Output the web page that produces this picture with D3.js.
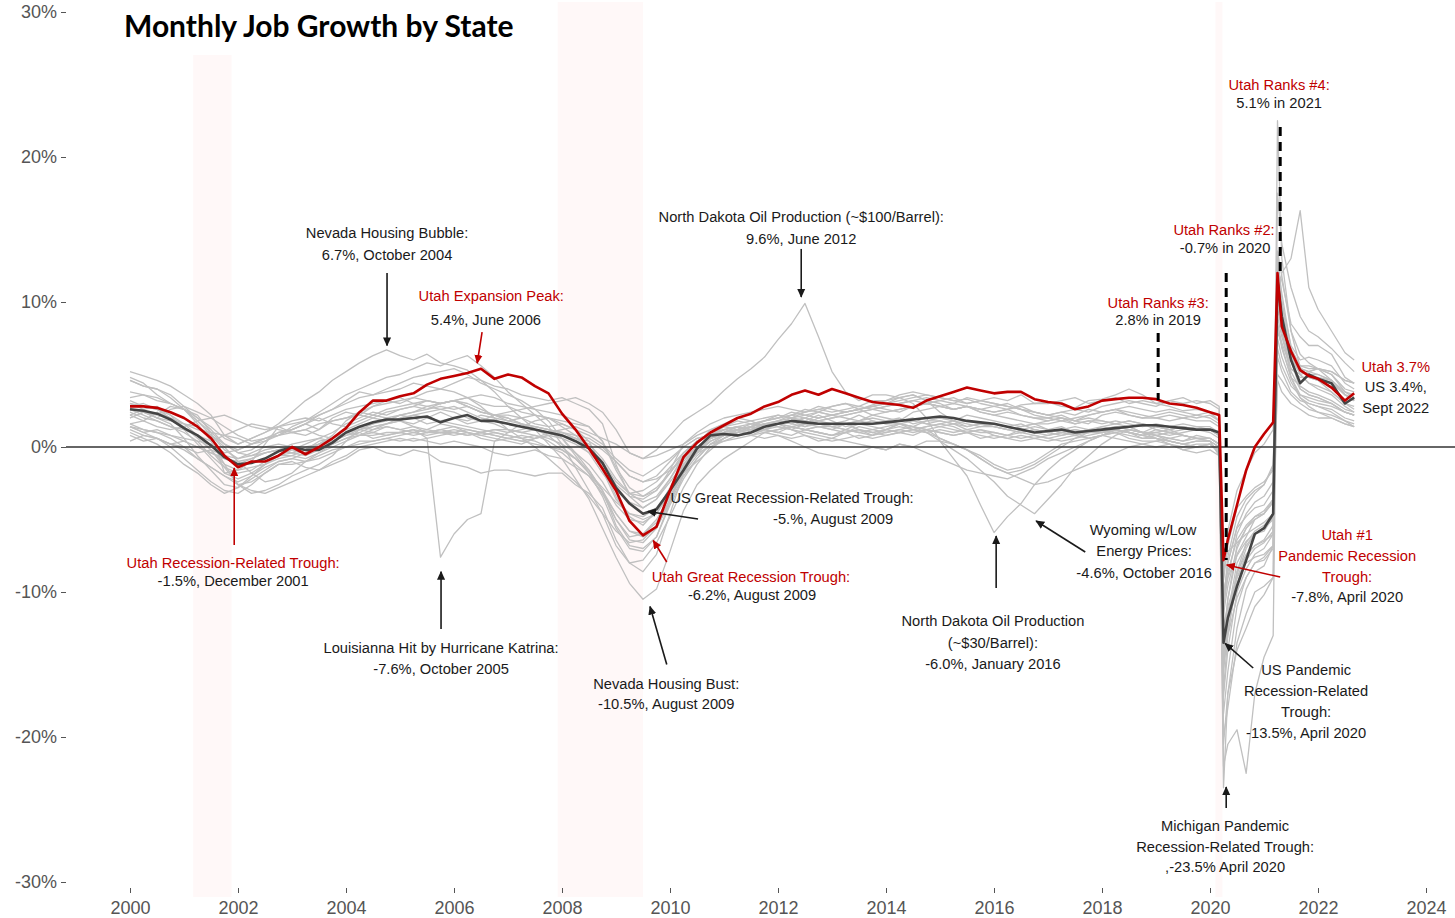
<!DOCTYPE html>
<html>
<head>
<meta charset="utf-8">
<script src="https://cdn.jsdelivr.net/npm/d3@7"></script>
<style>
  body { margin: 0; background: #fff; }
  svg { display: block; font-family: "Liberation Sans", Arial, sans-serif; }
</style>
</head>
<body>
<script>
var width  = 1455,
    height = 918;

// quarterly through 2019, then roughly every other month through Sept 2022
var dates = [
  2000, 2000.25, 2000.5, 2000.75, 2001, 2001.25, 2001.5, 2001.75,
  2002, 2002.25, 2002.5, 2002.75, 2003, 2003.25, 2003.5, 2003.75,
  2004, 2004.25, 2004.5, 2004.75, 2005, 2005.25, 2005.5, 2005.75,
  2006, 2006.25, 2006.5, 2006.75, 2007, 2007.25, 2007.5, 2007.75,
  2008, 2008.25, 2008.5, 2008.75, 2009, 2009.25, 2009.5, 2009.75,
  2010, 2010.25, 2010.5, 2010.75, 2011, 2011.25, 2011.5, 2011.75,
  2012, 2012.25, 2012.5, 2012.75, 2013, 2013.25, 2013.5, 2013.75,
  2014, 2014.25, 2014.5, 2014.75, 2015, 2015.25, 2015.5, 2015.75,
  2016, 2016.25, 2016.5, 2016.75, 2017, 2017.25, 2017.5, 2017.75,
  2018, 2018.25, 2018.5, 2018.75, 2019, 2019.25, 2019.5, 2019.75,
  2020, 2020.17, 2020.25, 2020.33, 2020.5, 2020.67, 2020.83,
  2021, 2021.17, 2021.25, 2021.33, 2021.5, 2021.67, 2021.83,
  2022, 2022.25, 2022.5, 2022.67
];

var us = [
  2.6, 2.5, 2.3, 1.9, 1.3, 0.8, 0.1, -0.7, -1.2, -1.1, -0.8, -0.3, 0.0, -0.2, -0.2, 0.3,
  1.0, 1.4, 1.7, 1.9, 1.9, 2.0, 2.1, 1.7, 2.0, 2.2, 1.8, 1.8, 1.6, 1.4, 1.2, 1.0,
  0.8, 0.4, -0.1, -1.1, -2.8, -3.9, -4.6, -4.3, -3.0, -1.6, -0.1, 0.8, 0.9, 0.8, 1.0, 1.4,
  1.6, 1.8, 1.7, 1.6, 1.6, 1.6, 1.6, 1.6, 1.7, 1.8, 1.9, 2.0, 2.1, 2.0, 1.8, 1.7,
  1.6, 1.4, 1.2, 1.0, 1.1, 1.2, 1.0, 1.1, 1.2, 1.3, 1.4, 1.5, 1.5, 1.4, 1.3, 1.2,
  1.2, 1.0, -13.5, -11.8, -9.6, -7.8, -6.0, -5.6, -4.6, 11.5, 9.0, 6.0, 4.4, 5.0, 4.7, 4.4, 3.0, 3.4
];

var utah = [
  2.8, 2.8, 2.7, 2.4, 2.0, 1.4, 0.6, -0.6, -1.4, -1.0, -1.0, -0.6, 0.0, -0.5, 0.0, 0.6,
  1.3, 2.4, 3.2, 3.2, 3.5, 3.7, 4.3, 4.7, 4.9, 5.1, 5.4, 4.7, 5.0, 4.8, 4.2, 3.7,
  2.3, 1.2, -0.1, -1.5, -3.0, -5.1, -6.1, -5.5, -3.0, -0.7, 0.3, 1.0, 1.5, 2.0, 2.3, 2.8,
  3.1, 3.6, 3.9, 3.6, 4.0, 3.7, 3.4, 3.1, 3.0, 2.9, 2.7, 3.2, 3.5, 3.8, 4.1, 3.9,
  3.7, 3.8, 3.8, 3.3, 3.1, 3.0, 2.6, 2.8, 3.2, 3.3, 3.4, 3.4, 3.3, 3.0, 2.9, 2.7,
  2.4, 2.2, -7.8, -6.4, -4.0, -1.6, 0.0, 0.9, 1.7, 12.0, 8.3, 6.6, 5.3, 4.9, 4.7, 4.1, 3.2, 3.7
];

var nevada = [
  5.2, 4.9, 4.6, 4.2, 3.6, 3.0, 2.2, 0.8, 0.2, 0.6, 1.0, 1.6, 2.4, 3.2, 3.8, 4.6,
  5.2, 5.8, 6.3, 6.7, 6.3, 6.0, 6.4, 5.8, 5.6, 5.3, 4.6, 3.8, 2.8, 2.0, 1.2, 0.2,
  -0.8, -2.2, -3.6, -5.6, -7.6, -9.4, -10.5, -9.8, -7.2, -4.4, -2.6, -1.6, -0.8, -0.2, 0.4, 1.0,
  1.2, 1.4, 1.6, 2.0, 2.2, 2.4, 2.6, 2.9, 3.2, 3.6, 3.8, 3.6, 3.4, 3.2, 3.3, 3.0,
  2.8, 2.6, 2.9, 3.0, 3.1, 2.8, 2.7, 3.2, 3.3, 3.6, 4.0, 3.6, 3.0, 2.8, 2.5, 2.6,
  2.4, 1.8, -20.5, -17.0, -14.0, -12.5, -11.0, -10.2, -9.0, 17.5, 14.0, 11.0, 9.0, 8.0, 7.6, 6.8, 5.8, 5.2
];

var northDakota = [
  1.4, 1.0, 1.2, 0.8, 0.6, 0.4, 0.2, -0.4, -0.2, 0.2, 0.6, 0.8, 1.0, 1.2, 1.6, 1.8,
  2.0, 2.2, 2.0, 1.8, 2.2, 2.0, 1.6, 1.8, 2.0, 1.6, 1.8, 2.2, 2.4, 2.6, 2.8, 3.0,
  3.2, 3.4, 3.0, 2.4, 1.2, -0.4, -0.8, -0.2, 0.8, 1.8, 2.4, 3.0, 3.9, 4.7, 5.4, 6.2,
  7.4, 8.5, 9.9, 7.6, 5.2, 3.8, 3.2, 3.6, 3.6, 3.4, 3.0, 2.0, 0.4, -0.8, -2.0, -4.0,
  -5.9, -4.8, -3.9, -2.6, -1.6, -0.8, -0.2, 0.4, 0.8, 1.2, 1.0, 0.6, 0.8, 0.4, 0.2, 0.0,
  0.2, -0.4, -10.5, -9.0, -7.5, -6.5, -6.0, -5.6, -5.0, 7.5, 6.2, 4.5, 3.4, 3.0, 2.8, 2.4, 1.8, 1.6
];

var louisiana = [
  0.8, 0.4, 0.6, 0.2, 0.4, 0.0, -0.4, -0.8, -1.2, -0.8, -0.4, -0.2, 0.2, 0.4, 0.6, 0.4,
  0.8, 1.0, 0.6, 0.8, 1.0, 1.2, 0.6, -7.6, -6.0, -5.0, -4.6, 0.4, 1.0, 1.6, 1.4, 1.2,
  1.0, 0.8, 0.6, 0.0, -1.0, -2.0, -2.4, -2.2, -1.6, -0.8, -0.4, 0.0, 0.4, 0.6, 0.8, 1.2,
  1.0, 1.4, 1.2, 1.0, 0.8, 1.2, 1.0, 0.8, 1.2, 1.6, 1.2, 1.0, 0.6, 0.2, -0.2, -0.6,
  -1.2, -1.6, -1.4, -1.0, -0.4, 0.2, 0.4, 0.6, 0.8, 1.0, 0.8, 0.6, 0.6, 0.4, 0.2, 0.0,
  0.2, -0.2, -13.5, -11.5, -9.0, -7.5, -6.8, -6.5, -6.0, 8.0, 7.0, 4.8, 3.6, 3.2, 3.0, 2.8, 2.4, 2.2
];

var michigan = [
  1.4, 1.0, 0.6, 0.0, -0.8, -1.6, -2.4, -3.0, -3.2, -2.6, -1.8, -1.2, -1.0, -1.4, -1.6, -1.2,
  -0.8, -0.2, 0.0, -0.4, -0.6, -0.2, -0.4, -1.0, -1.2, -1.4, -1.8, -1.6, -1.6, -1.8, -2.0, -1.8,
  -1.8, -2.6, -3.2, -4.2, -6.4, -8.0, -8.6, -7.4, -4.6, -1.8, -0.2, 0.8, 1.4, 1.8, 1.6, 1.8,
  2.0, 2.2, 2.0, 1.8, 1.6, 1.8, 2.2, 1.8, 1.6, 1.6, 1.4, 1.8, 1.8, 1.6, 1.8, 1.6,
  1.6, 1.4, 1.6, 1.2, 1.0, 1.2, 0.8, 1.0, 1.0, 1.2, 1.0, 0.8, 0.6, 0.4, 0.2, 0.4,
  0.4, 0.0, -23.5, -17.0, -12.5, -9.8, -8.6, -8.2, -6.8, 22.5, 13.0, 8.0, 5.5, 4.8, 4.6, 3.8, 3.0, 2.6
];

var wyoming = [
  2.0, 2.4, 2.0, 2.6, 2.8, 2.4, 2.0, 1.4, 0.8, 0.4, 0.6, 0.8, 1.2, 1.6, 1.2, 2.0,
  2.4, 2.2, 2.8, 3.2, 3.0, 3.4, 3.8, 4.0, 4.4, 4.8, 4.6, 4.2, 4.0, 3.6, 3.4, 3.2,
  3.4, 3.0, 2.6, 1.6, -1.2, -3.4, -4.2, -3.6, -2.4, -1.2, -0.4, 0.4, 0.8, 1.2, 1.6, 1.4,
  1.6, 1.2, 0.8, 0.4, 0.6, 1.0, 0.6, 0.8, 1.2, 1.6, 1.4, 1.0, 0.4, -0.2, -0.8, -1.6,
  -2.4, -3.4, -4.0, -4.6, -3.6, -2.6, -1.4, -0.6, 0.2, 0.8, 1.2, 1.0, 1.4, 1.2, 0.8, 0.6,
  0.4, -0.6, -8.0, -7.2, -6.6, -6.0, -5.6, -5.2, -4.6, 4.6, 3.8, 3.0, 2.6, 2.2, 2.0, 2.0, 1.6, 1.4
];

var arizona = [
  4.6, 4.2, 4.0, 3.6, 2.8, 2.0, 1.2, 0.2, -0.4, -0.2, 0.4, 0.8, 1.4, 1.8, 2.4, 3.0,
  3.6, 4.0, 4.4, 4.8, 5.0, 5.4, 5.8, 5.6, 6.0, 6.3, 5.6, 4.8, 3.8, 3.0, 2.2, 1.4,
  0.2, -1.4, -3.0, -4.6, -6.8, -8.0, -7.8, -6.6, -4.8, -2.8, -1.2, 0.0, 0.6, 1.2, 1.4, 1.8,
  2.0, 2.4, 2.2, 2.0, 2.2, 2.0, 1.8, 2.2, 2.0, 1.8, 2.4, 2.6, 2.8, 2.6, 2.8, 2.6,
  2.4, 2.6, 2.8, 2.4, 2.2, 2.4, 2.6, 2.4, 2.8, 3.0, 3.2, 3.0, 2.8, 3.2, 3.0, 3.2,
  3.0, 2.6, -10.5, -8.0, -5.5, -4.0, -3.2, -2.6, -1.2, 10.5, 8.4, 6.0, 5.2, 5.0, 5.0, 4.6, 3.8, 3.6
];

var idaho = [
  4.8, 4.4, 3.6, 3.0, 2.6, 1.8, 1.0, 0.2, -0.2, 0.2, 0.6, 1.0, 1.2, 1.6, 2.2, 2.6,
  3.2, 3.8, 3.6, 4.0, 4.4, 4.8, 5.0, 5.2, 5.4, 5.0, 4.4, 4.0, 3.6, 3.2, 2.6, 1.8,
  0.6, -0.6, -1.8, -3.4, -5.6, -7.0, -7.2, -6.2, -4.0, -2.2, -0.8, 0.2, 0.4, 0.8, 1.0, 1.4,
  1.8, 2.2, 2.6, 2.4, 2.8, 3.0, 2.6, 2.8, 2.6, 2.4, 2.8, 3.0, 3.2, 3.4, 3.0, 3.2,
  3.4, 3.2, 3.6, 3.0, 3.0, 3.2, 3.4, 3.0, 3.2, 3.4, 3.0, 3.2, 3.0, 3.2, 3.4, 3.0,
  3.2, 2.8, -9.0, -5.8, -3.0, -1.6, -0.4, 0.2, 1.2, 11.0, 8.5, 6.2, 5.4, 5.2, 5.0, 4.6, 3.6, 3.4
];

var florida = [
  3.8, 3.6, 3.2, 3.0, 2.6, 2.0, 1.4, 0.6, 0.2, 0.6, 1.0, 1.4, 1.6, 1.8, 2.2, 2.6,
  3.0, 3.4, 3.6, 3.8, 4.0, 4.4, 4.2, 4.0, 3.8, 3.4, 2.8, 2.0, 1.2, 0.6, 0.0, -0.8,
  -1.6, -2.4, -3.4, -4.6, -5.8, -6.6, -6.4, -5.4, -3.6, -1.8, -0.6, 0.2, 0.6, 1.0, 1.2, 1.4,
  1.8, 1.6, 2.0, 2.4, 2.2, 2.4, 2.6, 2.8, 3.0, 3.2, 3.4, 3.6, 3.4, 3.2, 3.0, 3.2,
  3.0, 2.8, 2.6, 2.2, 2.0, 2.2, 1.8, 1.6, 2.2, 2.4, 2.2, 2.0, 2.2, 2.4, 2.2, 2.0,
  2.2, 1.8, -13.2, -10.5, -7.4, -6.2, -5.0, -4.6, -3.8, 11.8, 9.0, 6.8, 5.6, 5.4, 5.4, 5.2, 4.6, 4.4
];

var texas = [
  2.8, 3.0, 2.6, 2.4, 2.0, 1.4, 0.8, 0.2, -0.4, -0.6, -0.4, -0.2, -0.4, -0.6, -0.2, 0.4,
  1.0, 1.4, 1.6, 2.0, 2.2, 2.4, 2.8, 3.0, 3.2, 3.4, 3.6, 3.4, 3.0, 2.8, 2.6, 2.4,
  2.2, 1.8, 1.4, 0.4, -1.4, -2.8, -3.4, -3.0, -1.6, 0.2, 1.0, 1.6, 2.0, 2.2, 2.4, 2.6,
  2.8, 2.6, 2.4, 2.8, 2.6, 2.4, 2.6, 2.8, 3.0, 3.4, 3.6, 3.2, 2.4, 1.8, 1.6, 1.4,
  1.4, 1.2, 1.4, 1.6, 1.8, 2.0, 1.8, 2.2, 2.4, 2.6, 2.8, 2.6, 2.4, 2.6, 2.4, 2.2,
  2.4, 1.8, -10.0, -8.6, -6.4, -5.4, -4.8, -4.6, -3.6, 9.0, 7.6, 5.4, 5.0, 5.2, 5.4, 5.2, 4.6, 4.4
];

var california = [
  3.4, 3.6, 3.4, 3.0, 2.6, 1.8, 0.8, -0.2, -0.8, -0.6, -0.2, 0.0, -0.2, -0.4, 0.0, 0.4,
  0.8, 1.2, 1.4, 1.6, 1.8, 1.6, 2.0, 1.8, 1.6, 1.4, 1.2, 1.0, 0.8, 0.6, 0.4, 0.0,
  -0.4, -1.2, -2.0, -3.2, -4.6, -5.8, -6.2, -5.6, -3.8, -2.0, -0.8, 0.2, 0.8, 1.2, 1.4, 1.8,
  2.0, 2.2, 2.4, 2.6, 2.4, 2.6, 2.8, 2.6, 2.4, 2.6, 2.8, 3.0, 2.8, 2.6, 2.8, 2.4,
  2.2, 2.0, 1.8, 1.6, 1.6, 1.8, 1.6, 1.8, 1.8, 1.6, 1.4, 1.6, 1.4, 1.2, 1.4, 1.2,
  1.2, 0.8, -15.0, -13.0, -10.4, -9.0, -8.0, -7.8, -7.0, 11.5, 10.0, 7.0, 6.0, 6.2, 6.0, 5.6, 4.4, 4.0
];

var ohio = [
  1.2, 0.8, 0.6, 0.2, -0.2, -0.8, -1.4, -2.0, -2.4, -2.0, -1.4, -1.0, -0.8, -1.0, -0.6, -0.2,
  0.0, 0.2, 0.4, 0.6, 0.4, 0.6, 0.4, 0.2, 0.4, 0.2, 0.0, -0.4, -0.6, -0.4, -0.2, -0.6,
  -0.8, -1.4, -2.0, -3.2, -5.0, -6.2, -6.0, -5.2, -3.2, -1.2, 0.0, 0.6, 1.0, 1.4, 1.2, 1.6,
  1.6, 1.4, 1.2, 1.0, 0.8, 1.0, 1.2, 1.0, 1.2, 1.4, 1.2, 1.0, 1.2, 1.0, 1.2, 1.0,
  1.0, 0.8, 0.6, 0.8, 0.6, 0.4, 0.6, 0.8, 1.0, 1.2, 1.0, 0.8, 0.6, 0.4, 0.2, 0.4,
  0.4, 0.0, -16.8, -13.0, -8.8, -7.0, -6.0, -5.6, -4.8, 13.5, 10.0, 6.0, 4.0, 3.6, 3.4, 3.0, 2.4, 2.2
];

var newYork = [
  2.4, 2.0, 1.8, 1.4, 1.0, 0.4, -0.6, -1.4, -1.8, -1.6, -1.0, -0.6, -0.6, -0.8, -0.4, 0.0,
  0.4, 0.8, 0.8, 1.0, 1.0, 0.8, 1.0, 1.0, 1.0, 0.8, 1.0, 1.2, 1.2, 1.0, 1.2, 1.0,
  0.8, 0.6, 0.2, -0.8, -2.2, -3.2, -3.0, -2.4, -1.4, -0.4, 0.4, 0.8, 1.2, 1.4, 1.2, 1.6,
  1.6, 1.8, 1.6, 1.4, 1.4, 1.6, 1.8, 1.6, 1.8, 1.6, 1.8, 1.6, 1.8, 1.6, 1.4, 1.6,
  1.4, 1.2, 1.0, 1.2, 1.0, 1.2, 1.4, 1.2, 1.2, 1.0, 1.2, 1.0, 1.0, 0.8, 1.0, 1.2,
  1.0, 0.6, -20.0, -18.0, -13.5, -11.5, -10.0, -9.6, -9.0, 12.0, 11.5, 8.5, 7.6, 7.0, 7.0, 6.4, 4.8, 4.4
];

var alaska = [
  1.6, 1.8, 1.4, 1.2, 1.4, 1.8, 2.0, 2.2, 1.8, 1.4, 1.2, 1.4, 1.0, 1.2, 0.8, 0.6,
  1.0, 1.4, 1.2, 1.6, 1.8, 1.4, 1.2, 1.6, 1.4, 1.2, 1.0, 0.8, 0.6, 0.4, 0.6, 1.0,
  1.2, 1.4, 1.0, 0.6, 0.2, -0.4, -0.8, -0.6, -0.2, 0.2, 0.8, 1.2, 1.4, 1.2, 1.4, 1.6,
  1.4, 1.2, 1.0, 0.8, 0.6, 0.4, 0.2, 0.0, -0.2, 0.2, 0.0, 0.4, 0.4, 0.2, -0.2, -0.8,
  -1.4, -1.8, -2.2, -2.6, -2.4, -2.0, -1.6, -1.2, -0.8, -0.4, 0.0, 0.2, 0.4, 0.6, 0.4, 0.8,
  0.6, 0.2, -12.4, -11.0, -9.0, -8.0, -7.6, -7.4, -6.8, 5.0, 4.6, 3.6, 3.0, 2.6, 2.4, 2.2, 1.8, 1.4
];

var westVirginia = [
  0.4, 0.8, 0.6, 0.2, 0.0, -0.4, -0.2, -0.6, -0.8, -0.4, 0.0, 0.2, 0.0, -0.2, 0.4, 0.6,
  1.0, 0.8, 1.2, 1.4, 1.2, 1.4, 1.0, 1.2, 1.4, 1.0, 0.8, 0.6, 0.4, 0.2, 0.6, 0.8,
  1.0, 0.6, 0.4, -0.2, -1.0, -2.0, -2.4, -2.0, -1.0, 0.0, 0.6, 0.8, 1.0, 1.2, 0.8, 0.6,
  0.8, 0.4, 0.0, -0.4, -0.6, -0.8, -0.4, 0.0, -0.2, 0.2, 0.0, -0.4, -0.8, -1.2, -1.6, -1.8,
  -2.0, -2.2, -1.8, -1.4, -0.8, -0.4, 0.0, 0.4, 0.8, 1.2, 1.4, 1.0, 0.6, 0.2, -0.2, -0.4,
  -0.2, -0.6, -15.6, -12.0, -8.6, -6.6, -5.8, -5.4, -4.6, 11.0, 8.0, 4.8, 3.4, 2.8, 2.4, 2.0, 1.6, 1.4
];

var hawaii = [
  2.0, 2.4, 2.2, 2.8, 2.6, 2.2, 1.0, -1.8, -1.6, -1.0, 0.2, 1.4, 1.8, 2.0, 1.8, 2.2,
  2.6, 2.8, 3.0, 3.2, 3.4, 3.0, 2.8, 2.6, 2.4, 2.0, 1.8, 1.6, 1.2, 1.0, 0.8, 0.4,
  -0.2, -0.8, -1.8, -2.8, -3.8, -4.6, -4.8, -4.2, -3.0, -1.8, -1.0, -0.2, 0.6, 1.0, 1.4, 1.2,
  1.6, 2.0, 1.8, 2.2, 1.8, 1.4, 1.6, 1.4, 1.2, 1.0, 1.2, 1.4, 1.6, 1.8, 1.4, 1.6,
  1.4, 1.2, 1.0, 1.2, 1.0, 0.8, 1.0, 0.6, 0.8, 0.6, 0.4, 0.2, 0.0, 0.2, -0.2, 0.0,
  0.2, -0.4, -22.0, -20.5, -19.5, -22.5, -17.0, -14.5, -13.0, 10.0, 12.0, 13.0, 16.3, 11.0, 9.5, 8.0, 6.5, 6.0
];

var colorado = [
  4.6, 4.2, 4.0, 3.4, 2.6, 1.6, 0.4, -1.2, -2.6, -3.2, -3.0, -2.6, -2.0, -1.6, -1.2, -0.6,
  0.4, 1.2, 1.6, 1.8, 2.2, 2.4, 2.6, 2.8, 2.6, 2.8, 2.4, 2.2, 2.2, 2.0, 2.2, 2.0,
  1.6, 1.2, 0.4, -1.4, -3.4, -4.8, -5.4, -4.4, -2.8, -1.0, 0.0, 0.6, 1.0, 1.4, 1.6, 1.8,
  2.2, 2.0, 2.4, 2.6, 2.8, 3.0, 2.8, 3.2, 3.2, 3.4, 3.6, 3.2, 3.0, 2.6, 2.8, 2.4,
  2.2, 2.4, 2.2, 2.0, 2.0, 1.8, 2.0, 2.2, 2.4, 2.6, 2.4, 2.2, 2.0, 2.2, 2.0, 2.2,
  2.0, 1.6, -11.5, -9.6, -7.0, -5.6, -5.0, -4.6, -3.8, 9.6, 8.0, 6.0, 5.4, 5.2, 5.4, 5.0, 4.0, 3.8
];

var washington = [
  3.0, 2.6, 2.8, 2.2, 1.2, 0.2, -0.8, -1.8, -2.2, -1.8, -1.2, -0.6, -0.2, 0.2, 0.6, 1.0,
  1.6, 2.0, 2.4, 2.2, 2.6, 2.8, 3.2, 3.0, 3.2, 3.4, 3.0, 2.8, 2.8, 2.4, 2.2, 2.0,
  1.4, 0.8, 0.0, -1.6, -3.6, -4.6, -5.0, -4.6, -3.2, -1.4, -0.4, 0.6, 1.0, 1.4, 1.2, 1.6,
  1.8, 2.0, 2.2, 2.4, 2.2, 2.4, 2.6, 2.2, 2.4, 2.6, 2.8, 3.0, 2.8, 3.0, 2.8, 2.6,
  2.8, 3.0, 2.6, 2.4, 2.2, 2.4, 2.2, 2.6, 2.4, 2.6, 2.2, 2.0, 2.0, 1.8, 2.0, 1.8,
  1.8, 1.4, -14.2, -11.5, -8.0, -6.8, -6.0, -5.8, -4.8, 10.8, 9.0, 6.4, 5.6, 5.6, 5.4, 5.0, 3.8, 3.4
];

var georgia = [
  3.2, 2.8, 2.6, 2.0, 1.4, 0.6, -0.2, -1.2, -1.6, -1.4, -1.2, -0.8, -0.6, -0.2, 0.2, 0.6,
  1.2, 1.6, 2.0, 2.4, 2.6, 2.8, 2.6, 3.0, 3.2, 2.8, 2.4, 2.2, 1.8, 1.6, 1.2, 0.8,
  0.0, -0.8, -1.8, -3.0, -4.6, -5.8, -6.0, -5.0, -3.4, -1.6, -0.4, 0.4, 0.8, 1.0, 1.4, 1.6,
  1.8, 1.6, 1.4, 1.8, 2.0, 2.2, 2.4, 2.6, 2.8, 3.0, 3.2, 3.0, 2.8, 2.6, 2.8, 2.6,
  2.4, 2.6, 2.2, 2.0, 1.8, 2.0, 1.6, 1.8, 1.6, 1.8, 1.6, 1.4, 1.6, 1.4, 1.6, 1.4,
  1.4, 1.0, -11.0, -9.0, -6.0, -4.6, -3.8, -3.4, -2.4, 8.4, 7.2, 5.4, 4.8, 4.8, 4.6, 4.4, 3.6, 3.2
];

var montana = [
  2.2, 2.6, 2.0, 1.8, 1.6, 1.2, 1.0, 0.8, 1.2, 1.6, 1.4, 1.2, 1.0, 0.8, 1.2, 1.8,
  2.0, 2.4, 2.2, 2.6, 2.8, 3.0, 3.2, 3.0, 3.2, 3.0, 2.6, 2.2, 2.0, 1.6, 1.4, 1.2,
  0.8, 0.4, -0.4, -1.8, -3.0, -3.8, -4.2, -3.6, -2.2, -0.8, 0.0, 0.6, 0.8, 1.0, 1.4, 1.2,
  1.6, 1.8, 2.0, 1.6, 1.4, 1.6, 1.2, 1.0, 0.8, 1.0, 1.2, 1.4, 1.6, 1.4, 1.0, 0.8,
  0.6, 0.8, 1.0, 0.8, 0.6, 0.8, 1.0, 1.2, 1.4, 1.2, 1.0, 0.8, 1.0, 1.2, 1.4, 1.2,
  1.2, 0.8, -10.8, -7.6, -4.8, -3.6, -3.0, -2.6, -1.4, 8.6, 6.8, 4.8, 4.2, 3.8, 3.6, 3.2, 2.6, 2.4
];

var illinois = [
  1.6, 1.2, 1.0, 0.6, 0.0, -0.8, -1.4, -2.0, -2.6, -2.4, -1.8, -1.2, -1.2, -1.0, -0.8, -0.4,
  0.0, 0.4, 0.4, 0.6, 0.8, 1.0, 1.2, 1.0, 1.2, 1.0, 0.8, 1.0, 0.8, 0.6, 0.8, 0.6,
  0.2, -0.4, -1.2, -2.4, -4.0, -5.0, -5.2, -4.6, -3.0, -1.2, -0.2, 0.6, 1.0, 1.2, 0.8, 1.0,
  1.2, 1.4, 1.2, 1.0, 0.8, 1.0, 1.2, 0.8, 1.0, 1.2, 1.4, 1.2, 1.0, 0.8, 1.0, 0.6,
  0.8, 0.6, 0.4, 0.6, 0.4, 0.6, 0.8, 0.6, 0.8, 1.0, 0.6, 0.4, 0.4, 0.2, 0.0, 0.2,
  0.2, -0.2, -15.2, -12.6, -9.4, -7.8, -7.0, -6.6, -5.8, 10.4, 9.0, 6.2, 5.0, 4.4, 4.2, 3.8, 3.0, 2.8
];

var oklahoma = [
  2.2, 1.8, 2.4, 2.0, 1.6, 1.4, 0.8, 0.0, -1.0, -1.8, -2.4, -2.2, -1.8, -1.0, -0.4, 0.2,
  0.6, 1.0, 1.4, 1.6, 2.0, 2.2, 2.4, 2.6, 2.8, 2.4, 2.0, 1.8, 1.6, 1.4, 1.8, 2.0,
  1.8, 1.6, 1.4, 0.4, -1.6, -3.2, -3.8, -3.4, -2.2, -0.6, 0.4, 1.0, 1.4, 1.6, 1.8, 2.0,
  2.2, 2.0, 1.8, 1.6, 1.4, 1.2, 1.0, 1.2, 1.4, 1.6, 1.4, 1.2, 0.6, 0.2, -0.2, -0.8,
  -1.4, -1.8, -1.6, -1.2, -0.6, 0.0, 0.6, 1.0, 1.4, 1.6, 1.8, 1.6, 1.2, 1.0, 0.8, 0.6,
  0.6, 0.2, -11.2, -8.0, -5.6, -4.8, -4.2, -4.0, -3.0, 6.8, 5.6, 4.2, 3.6, 3.4, 3.2, 3.0, 2.4, 2.2
];

var southDakota = [
  2.6, 2.2, 1.8, 1.4, 1.2, 0.8, 0.4, 0.8, 0.6, 0.2, 0.4, 1.0, 1.2, 1.6, 2.0, 1.6,
  1.4, 1.8, 2.2, 2.0, 1.8, 2.2, 2.0, 2.4, 2.0, 1.8, 2.2, 2.0, 1.8, 2.0, 1.6, 1.4,
  1.6, 1.2, 0.8, 0.2, -0.8, -1.6, -2.0, -1.4, -0.8, 0.0, 0.6, 0.8, 1.0, 1.2, 1.4, 1.2,
  1.0, 0.8, 1.2, 1.4, 1.2, 1.0, 1.4, 1.2, 1.0, 1.2, 1.0, 1.2, 1.4, 1.2, 1.0, 1.2,
  1.0, 0.8, 1.2, 1.0, 0.8, 1.0, 0.8, 1.2, 1.0, 1.2, 1.0, 0.8, 1.2, 1.0, 1.2, 1.4,
  1.2, 0.8, -9.2, -6.8, -4.2, -3.4, -2.8, -2.4, -1.6, 6.2, 5.2, 3.8, 3.2, 3.0, 2.8, 2.6, 2.0, 1.8
];

var pennsylvania = [
  1.4, 1.2, 1.0, 0.8, 0.4, 0.0, -0.4, -0.8, -1.0, -0.8, -0.4, -0.2, -0.4, -0.2, 0.0, 0.2,
  0.6, 0.8, 1.0, 0.8, 1.0, 1.2, 1.0, 1.2, 1.0, 0.8, 1.0, 0.8, 0.6, 0.8, 0.6, 0.8,
  0.6, 0.2, -0.4, -1.2, -2.6, -3.4, -3.6, -3.0, -1.8, -0.4, 0.4, 0.8, 1.2, 1.0, 1.2, 1.0,
  0.8, 0.6, 0.8, 0.6, 0.4, 0.6, 0.8, 0.6, 0.8, 1.0, 0.8, 1.2, 1.0, 0.8, 1.0, 1.2,
  0.8, 0.6, 0.8, 0.6, 0.8, 1.0, 1.2, 1.0, 1.2, 1.4, 1.2, 1.0, 0.8, 1.0, 0.8, 0.6,
  0.6, 0.2, -17.2, -14.0, -10.0, -8.4, -7.4, -7.0, -6.0, 12.8, 10.6, 6.8, 5.0, 4.4, 4.0, 3.6, 2.8, 2.4
];

var massachusetts = [
  3.0, 2.8, 2.6, 2.2, 1.6, 0.8, -0.2, -1.4, -2.6, -3.0, -3.2, -2.8, -2.4, -2.0, -1.6, -1.0,
  -0.6, 0.0, 0.2, 0.4, 0.6, 0.4, 0.6, 0.8, 1.0, 1.2, 1.0, 1.2, 1.0, 1.2, 1.4, 1.2,
  1.0, 0.6, 0.0, -1.0, -2.4, -3.2, -3.4, -2.8, -1.8, -0.6, 0.4, 1.0, 1.2, 1.4, 1.2, 1.4,
  1.6, 1.4, 1.2, 1.4, 1.2, 1.6, 1.8, 2.0, 1.8, 2.0, 1.6, 1.8, 2.0, 1.8, 2.2, 2.0,
  1.8, 1.6, 1.4, 1.6, 1.2, 1.4, 1.0, 1.2, 1.0, 1.2, 1.4, 1.0, 0.8, 0.6, 0.8, 0.6,
  0.6, 0.2, -18.4, -15.5, -11.0, -9.0, -8.0, -7.6, -6.8, 13.5, 11.8, 8.0, 6.4, 5.8, 5.4, 4.6, 3.6, 3.2
];

var indiana = [
  1.0, 0.6, 0.2, -0.4, -1.2, -1.8, -2.6, -3.2, -2.8, -2.0, -1.2, -0.6, -0.4, 0.0, 0.2, 0.6,
  1.0, 1.2, 1.0, 1.4, 1.2, 1.0, 0.8, 1.0, 0.8, 1.0, 0.6, 0.4, 0.6, 0.4, 0.2, 0.0,
  -0.2, -0.8, -1.6, -3.0, -5.4, -6.8, -7.0, -6.2, -3.8, -1.4, 0.2, 1.2, 1.6, 2.0, 1.8, 1.4,
  1.6, 1.8, 1.4, 1.6, 1.4, 1.2, 1.6, 1.8, 1.6, 1.8, 2.0, 1.6, 1.4, 1.6, 1.2, 1.4,
  1.6, 1.4, 1.2, 1.4, 1.2, 1.0, 1.2, 1.0, 1.2, 1.4, 1.2, 1.0, 0.8, 0.6, 0.4, 0.6,
  0.4, 0.0, -13.8, -10.5, -6.8, -5.6, -4.8, -4.4, -3.6, 11.2, 8.4, 5.2, 4.0, 3.6, 3.4, 3.0, 2.4, 2.2
];

var oregon = [
  2.6, 2.4, 2.0, 1.6, 0.6, -0.6, -1.6, -2.6, -2.8, -2.2, -1.6, -1.0, -0.8, -0.4, 0.2, 0.8,
  1.8, 2.4, 2.8, 3.0, 3.2, 3.4, 3.2, 3.0, 3.2, 2.8, 2.4, 2.2, 2.0, 1.6, 1.2, 1.0,
  0.6, -0.4, -1.6, -3.0, -5.0, -6.4, -6.6, -5.6, -3.6, -1.4, -0.4, 0.6, 1.2, 1.4, 1.0, 1.2,
  1.4, 1.2, 1.6, 1.8, 2.0, 2.2, 2.4, 2.6, 2.8, 3.0, 3.2, 3.4, 3.2, 3.0, 3.4, 3.2,
  3.0, 2.8, 2.6, 2.4, 2.2, 2.0, 1.8, 2.0, 1.8, 1.6, 1.8, 1.6, 1.4, 1.2, 1.4, 1.2,
  1.2, 0.8, -14.6, -12.0, -8.6, -7.4, -6.8, -6.4, -5.4, 11.0, 9.4, 6.4, 5.2, 5.0, 4.8, 4.6, 3.6, 3.2
];

var states = [nevada, northDakota, louisiana, michigan, wyoming, arizona, idaho,
  florida, texas, california, ohio, newYork, alaska, westVirginia, hawaii,
  colorado, washington, georgia, montana, illinois, oklahoma, southDakota,
  pennsylvania, massachusetts, indiana, oregon];

var recessions = [[2001.17, 2001.88], [2007.92, 2009.5], [2020.1, 2020.23]];
var xTicks = [2000, 2002, 2004, 2006, 2008, 2010, 2012, 2014, 2016, 2018, 2020, 2022, 2024];
var yTicks = [-30, -20, -10, 0, 10, 20, 30];

var RED = '#c00000', INK = '#1a1a1a';

// annotation text, placed in data units (year, percent)
var notes = [
  {x: 2004.76, y: 14.76, t: 'Nevada Housing Bubble:', c: INK},
  {x: 2004.76, y: 13.24, t: '6.7%, October 2004', c: INK},
  {x: 2006.69, y: 10.41, t: 'Utah Expansion Peak:', c: RED},
  {x: 2006.59, y: 8.76,  t: '5.4%, June 2006', c: INK},
  {x: 2012.43, y: 15.86, t: 'North Dakota Oil Production (~$100/Barrel):', c: INK},
  {x: 2012.43, y: 14.34, t: '9.6%, June 2012', c: INK},
  {x: 2001.91, y: -8.0,  t: 'Utah Recession-Related Trough:', c: RED},
  {x: 2001.91, y: -9.24, t: '-1.5%, December 2001', c: INK},
  {x: 2005.76, y: -13.86, t: 'Louisianna Hit by Hurricane Katrina:', c: INK},
  {x: 2005.76, y: -15.31, t: '-7.6%, October 2005', c: INK},
  {x: 2009.93, y: -16.34, t: 'Nevada Housing Bust:', c: INK},
  {x: 2009.93, y: -17.72, t: '-10.5%, August 2009', c: INK},
  {x: 2012.26, y: -3.52, t: 'US Great Recession-Related Trough:', c: INK},
  {x: 2013.02, y: -4.97, t: '-5.%, August 2009', c: INK},
  {x: 2011.5,  y: -8.97, t: 'Utah Great Recession Trough:', c: RED},
  {x: 2011.52, y: -10.21, t: '-6.2%, August 2009', c: INK},
  {x: 2015.98, y: -12.0, t: 'North Dakota Oil Production', c: INK},
  {x: 2015.98, y: -13.52, t: '(~$30/Barrel):', c: INK},
  {x: 2015.98, y: -14.97, t: '-6.0%, January 2016', c: INK},
  {x: 2018.76, y: -5.72, t: 'Wyoming w/Low', c: INK},
  {x: 2018.78, y: -7.17, t: 'Energy Prices:', c: INK},
  {x: 2018.78, y: -8.69, t: '-4.6%, October 2016', c: INK},
  {x: 2022.54, y: -6.07, t: 'Utah #1', c: RED},
  {x: 2022.54, y: -7.52, t: 'Pandemic Recession', c: RED},
  {x: 2022.54, y: -8.97, t: 'Trough:', c: RED},
  {x: 2022.54, y: -10.34, t: '-7.8%, April 2020', c: INK},
  {x: 2021.78, y: -15.38, t: 'US Pandemic', c: INK},
  {x: 2021.78, y: -16.83, t: 'Recession-Related', c: INK},
  {x: 2021.78, y: -18.28, t: 'Trough:', c: INK},
  {x: 2021.78, y: -19.72, t: '-13.5%, April 2020', c: INK},
  {x: 2020.28, y: -26.14, t: 'Michigan Pandemic', c: INK},
  {x: 2020.28, y: -27.59, t: 'Recession-Related Trough:', c: INK},
  {x: 2020.28, y: -28.97, t: ',-23.5% April 2020', c: INK},
  {x: 2021.28, y: 24.97, t: 'Utah Ranks #4:', c: RED},
  {x: 2021.28, y: 23.72, t: '5.1% in 2021', c: INK},
  {x: 2020.26, y: 14.97, t: 'Utah Ranks #2:', c: RED},
  {x: 2020.28, y: 13.72, t: '-0.7% in 2020', c: INK},
  {x: 2019.04, y: 9.93,  t: 'Utah Ranks #3:', c: RED},
  {x: 2019.04, y: 8.76,  t: '2.8% in 2019', c: INK},
  {x: 2023.44, y: 5.52,  t: 'Utah 3.7%', c: RED},
  {x: 2023.44, y: 4.14,  t: 'US 3.4%,', c: INK},
  {x: 2023.44, y: 2.69,  t: 'Sept 2022', c: INK}
];

var arrows = [
  {x1: 2004.76, y1: 12.0,  x2: 2004.76, y2: 7.0,   c: 'black'},
  {x1: 2006.52, y1: 7.93,  x2: 2006.43, y2: 5.79,  c: 'red'},
  {x1: 2012.43, y1: 13.66, x2: 2012.43, y2: 10.35, c: 'black'},
  {x1: 2001.93, y1: -6.76, x2: 2001.93, y2: -1.45, c: 'red'},
  {x1: 2005.76, y1: -12.55, x2: 2005.76, y2: -8.6, c: 'black'},
  {x1: 2009.94, y1: -15.0, x2: 2009.63, y2: -11.0, c: 'black'},
  {x1: 2010.52, y1: -4.97, x2: 2009.59, y2: -4.45, c: 'black'},
  {x1: 2009.94, y1: -7.93, x2: 2009.69, y2: -6.45, c: 'red'},
  {x1: 2016.04, y1: -9.72, x2: 2016.04, y2: -6.14, c: 'black'},
  {x1: 2017.69, y1: -7.24, x2: 2016.78, y2: -5.1,  c: 'black'},
  {x1: 2021.30, y1: -8.97, x2: 2020.31, y2: -8.14, c: 'red'},
  {x1: 2020.80, y1: -15.24, x2: 2020.28, y2: -13.55, c: 'black'},
  {x1: 2020.30, y1: -24.9, x2: 2020.30, y2: -23.45, c: 'black'}
];

var dashes = [
  {x: 2019.04, y1: 7.86,  y2: 3.24},
  {x: 2020.30, y1: 12.0,  y2: -7.79},
  {x: 2021.30, y1: 22.07, y2: 12.07}
];

var x = d3.scaleLinear().domain([2000, 2024]).range([130, 1426]);
var y = d3.scaleLinear().domain([-30, 30]).range([882, 12]);

var svg = d3.select('body').append('svg')
    .attr('width', width)
    .attr('height', height);

var defs = svg.append('defs');
[['black', INK], ['red', RED]].forEach(function(m) {
  defs.append('marker')
      .attr('id', 'head-' + m[0])
      .attr('viewBox', '0 0 10 10')
      .attr('refX', 9).attr('refY', 5)
      .attr('markerWidth', 9).attr('markerHeight', 9)
      .attr('markerUnits', 'userSpaceOnUse')
      .attr('orient', 'auto')
    .append('path')
      .attr('d', 'M0,0.5L10,5L0,9.5Z')
      .attr('fill', m[1]);
});

// recession shading (barely there in the original)
svg.append('g').selectAll('rect')
    .data(recessions)
  .enter().append('rect')
    .attr('x', function(d) { return x(d[0]); })
    .attr('width', function(d) { return x(d[1]) - x(d[0]); })
    .attr('y', 2)
    .attr('height', 895)
    .attr('fill', '#fff8f8');

// axes
var yAxis = svg.append('g')
    .attr('transform', 'translate(66,0)')
    .call(d3.axisLeft(y).tickValues(yTicks).tickSize(5).tickPadding(4)
      .tickFormat(function(d) { return d + '%'; }));

var xAxis = svg.append('g')
    .attr('transform', 'translate(0,888)')
    .call(d3.axisBottom(x).tickValues(xTicks).tickSize(5).tickPadding(8)
      .tickFormat(d3.format('d')));

[yAxis, xAxis].forEach(function(g) {
  g.select('.domain').remove();
  g.selectAll('line').attr('stroke', '#555');
  g.selectAll('text')
      .attr('fill', '#555')
      .style('font-size', '18px')
      .style('font-family', '"Liberation Sans", Arial, sans-serif');
});

var line = d3.line()
    .x(function(d, i) { return x(dates[i]); })
    .y(function(d) { return y(d); });

// state lines
svg.append('g').selectAll('path')
    .data(states)
  .enter().append('path')
    .attr('d', function(d) { return line(d.slice(0, dates.length)); })
    .attr('fill', 'none')
    .attr('stroke', '#c0c0c0')
    .attr('stroke-width', 1.3)
    .attr('stroke-linejoin', 'round');

// zero line
svg.append('line')
    .attr('x1', 66).attr('x2', width)
    .attr('y1', y(0)).attr('y2', y(0))
    .attr('stroke', '#333')
    .attr('stroke-width', 1.4);

svg.append('path')
    .attr('d', line(us))
    .attr('fill', 'none')
    .attr('stroke', '#444')
    .attr('stroke-width', 2.6)
    .attr('stroke-linejoin', 'round');

svg.append('path')
    .attr('d', line(utah))
    .attr('fill', 'none')
    .attr('stroke', RED)
    .attr('stroke-width', 2.6)
    .attr('stroke-linejoin', 'round');

// dashed rank markers
svg.append('g').selectAll('line')
    .data(dashes)
  .enter().append('line')
    .attr('x1', function(d) { return x(d.x); })
    .attr('x2', function(d) { return x(d.x); })
    .attr('y1', function(d) { return y(d.y1); })
    .attr('y2', function(d) { return y(d.y2); })
    .attr('stroke', '#000')
    .attr('stroke-width', 3)
    .attr('stroke-dasharray', '9,6');

svg.append('g').selectAll('line')
    .data(arrows)
  .enter().append('line')
    .attr('x1', function(d) { return x(d.x1); })
    .attr('y1', function(d) { return y(d.y1); })
    .attr('x2', function(d) { return x(d.x2); })
    .attr('y2', function(d) { return y(d.y2); })
    .attr('stroke', function(d) { return d.c === 'red' ? RED : INK; })
    .attr('stroke-width', 1.6)
    .attr('marker-end', function(d) { return 'url(#head-' + d.c + ')'; });

svg.append('g').selectAll('text')
    .data(notes)
  .enter().append('text')
    .attr('x', function(d) { return x(d.x); })
    .attr('y', function(d) { return y(d.y); })
    .attr('dy', '0.35em')
    .attr('text-anchor', 'middle')
    .attr('fill', function(d) { return d.c; })
    .style('font-size', '14.7px')
    .text(function(d) { return d.t; });

// title sits on a white box over the top of the panel
svg.append('rect')
    .attr('x', 115).attr('y', 0)
    .attr('width', 410).attr('height', 55)
    .attr('fill', '#fff');

svg.append('text')
    .attr('x', 124)
    .attr('y', 37)
    .style('font-family', 'Lato, "Open Sans", sans-serif')
    .style('font-weight', 'bold')
    .style('font-size', '30px')
    .attr('fill', '#000')
    .text('Monthly Job Growth by State');
</script>
</body>
</html>
